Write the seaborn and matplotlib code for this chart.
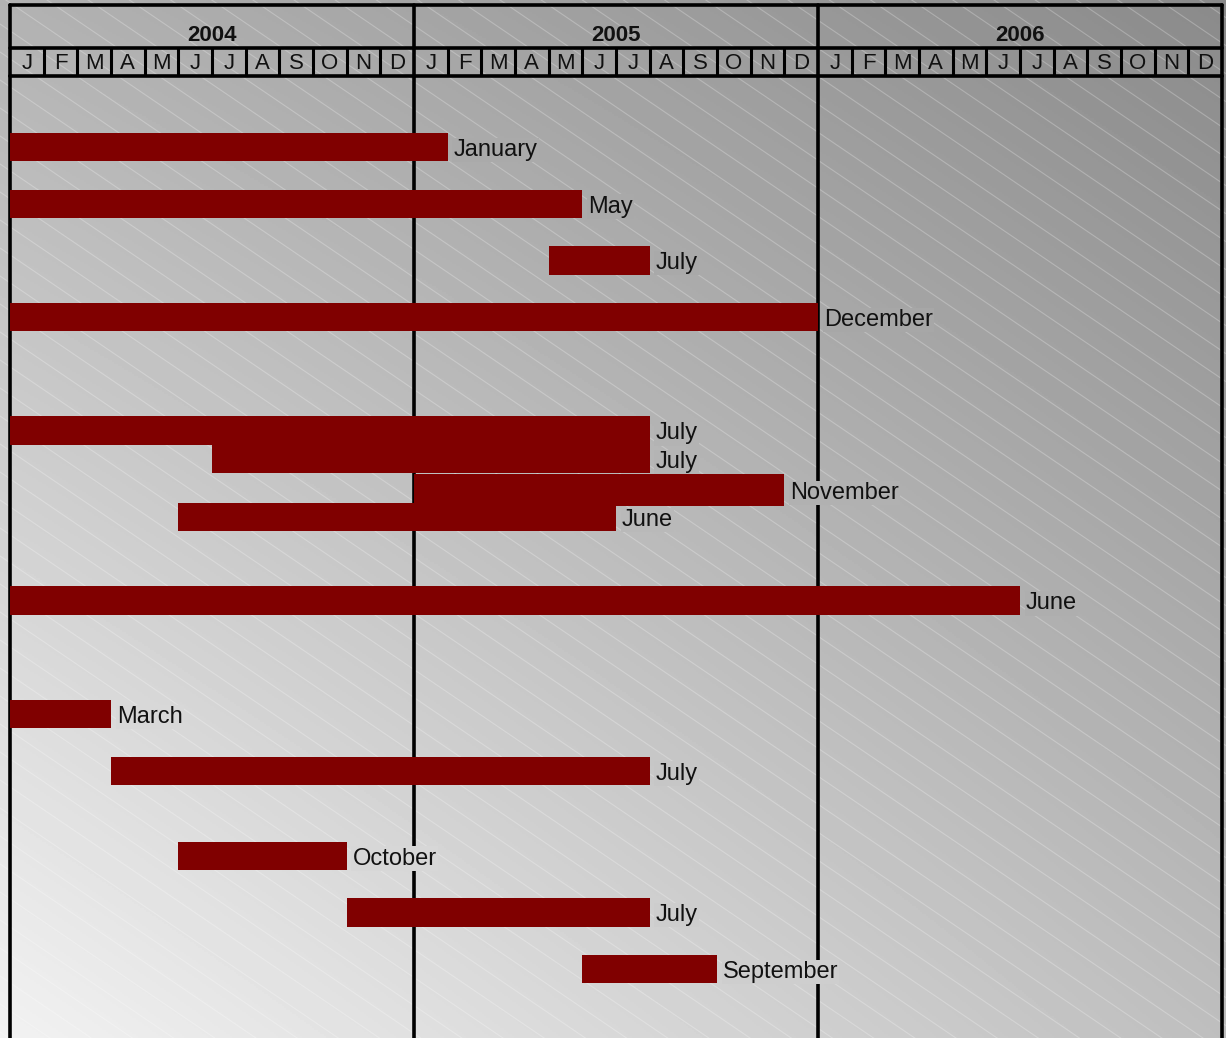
import numpy as np
import seaborn as sns
import matplotlib.pyplot as plt

# =========================
# Data (month index: 0 = Jan 2004, end is exclusive)
# =========================
years = ["2004", "2005", "2006"]
month_letters = ["J", "F", "M", "A", "M", "J", "J", "A", "S", "O", "N", "D"]

bar_start = [0, 0, 16, 0, 0, 6, 12, 5, 0, 0, 3, 5, 10, 17]
bar_end = [13, 17, 19, 24, 19, 19, 23, 18, 30, 3, 19, 10, 19, 21]
bar_row = [0, 1, 2, 3, 5, 5.5, 6.05, 6.53, 8, 10, 11, 12.5, 13.5, 14.5]
bar_height = [0.5, 0.5, 0.5, 0.5, 0.5, 0.5, 0.55, 0.5, 0.5, 0.5, 0.5, 0.5, 0.5, 0.5]
bar_label = ["January", "May", "July", "December", "July", "July", "November",
             "June", "June", "March", "July", "October", "July", "September"]

BAR_COLOR = "#800000"

# =========================
# Style
# =========================
sns.set_theme(style="white")
plt.rcParams["font.family"] = ["Liberation Sans", "DejaVu Sans"]

W, H = 1226, 1038
fig = plt.figure(figsize=(W / 100, H / 100), dpi=100)

# gradient background (light bottom-left, dark top-right)
TL, TR, BL, BR = 178, 138, 242, 190


def bg_value(px, py):
    u = px / W
    v = py / H
    top = TL + (TR - TL) * u
    bot = BL + (BR - BL) * u
    return (top + (bot - top) * v) / 255.0


gx, gy = np.meshgrid(np.arange(0, W, 2), np.arange(0, H, 2))
grad = bg_value(gx, gy)

bg = fig.add_axes([0, 0, 1, 1])
bg.imshow(grad, cmap="gray", vmin=0, vmax=1, extent=[0, W, H, 0], aspect="auto")
xs = np.array([0, W])
for c in np.arange(-900, H + 40, 28):
    bg.plot(xs, 0.68 * xs + c, color="white", lw=0.8, alpha=0.25)
bg.set_xlim(0, W)
bg.set_ylim(H, 0)
bg.axis("off")

# layout in pixels
X0, X1 = 10, 1222
HEAD_TOP, HEAD_MID, HEAD_BOT = 5, 48, 76
n_months = 12 * len(years)

# =========================
# Header
# =========================
hax = fig.add_axes([X0 / W, 1 - HEAD_BOT / H, (X1 - X0) / W, (HEAD_BOT - HEAD_TOP) / H])
hax.set_xlim(0, n_months)
hax.set_ylim(0, 1)
hax.axis("off")
mid = (HEAD_BOT - HEAD_MID) / (HEAD_BOT - HEAD_TOP)
for yv in [0, mid, 1]:
    hax.axhline(yv, color="black", lw=2.6, clip_on=False)
for m in range(n_months + 1):
    if m % 12 == 0:
        hax.axvline(m, color="black", lw=2.6, clip_on=False)
    else:
        hax.plot([m, m], [0, mid], color="black", lw=2.2)
for i, yr in enumerate(years):
    hax.text(12 * i + 6, 0.57, yr, ha="center", va="center",
             fontsize=16, fontweight="bold", color="#111111")
    for j, ml in enumerate(month_letters):
        hax.text(12 * i + j + 0.5, 0.17, ml, ha="center", va="center",
                 fontsize=16, color="#111111")

# =========================
# Bars
# =========================
ROW0, ROW_STEP = 147, 56.7
ax = fig.add_axes([X0 / W, 0, (X1 - X0) / W, (H - HEAD_BOT) / H])
ax.patch.set_alpha(0)
ax.set_xlim(0, n_months)
ax.set_ylim((H - ROW0) / ROW_STEP, (HEAD_BOT - ROW0) / ROW_STEP)
for m in range(0, n_months + 1, 12):
    ax.axvline(m, color="black", lw=2.6, zorder=1, clip_on=False)

widths = [e - s for s, e in zip(bar_start, bar_end)]
ax.barh(bar_row, widths, left=bar_start, height=bar_height,
        color=BAR_COLOR, edgecolor="none", zorder=3)

for s, e, r, lab in zip(bar_start, bar_end, bar_row, bar_label):
    px = X0 + (e + 1.5) * (X1 - X0) / n_months
    py = ROW0 + r * ROW_STEP
    g = bg_value(px, py)
    ax.text(e + 0.17, r + 0.05, lab, ha="left", va="center", fontsize=17,
            color="#111111", zorder=4,
            bbox=dict(boxstyle="square,pad=0.05", facecolor=(g, g, g), edgecolor="none"))

ax.axis("off")

plt.savefig("out.png", dpi=100)
plt.close()
